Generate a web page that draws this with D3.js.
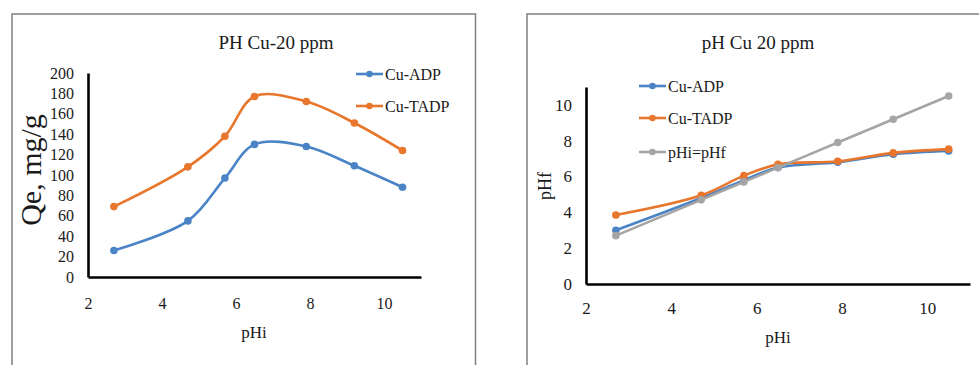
<!DOCTYPE html>
<html>
<head>
<meta charset="utf-8">
<script src="https://cdn.jsdelivr.net/npm/d3@7"></script>
<style>
  body { margin: 0; background: #fff; }
</style>
</head>
<body>
<div id="chart"></div>
<script>
// data
var phInitial = [2.7, 4.7, 5.7, 6.5, 7.9, 9.2, 10.5];

// left panel: Qe, mg/g
var qeADP  = [26, 55, 97, 130, 128, 109, 88];
var qeTADP = [69, 108, 138, 177, 172, 151, 124];
var qeTicks = [0, 20, 40, 60, 80, 100, 120, 140, 160, 180, 200];

// right panel: final pH
var phfADP  = [3.0, 4.8, 5.8, 6.5, 6.8, 7.25, 7.43];
var phfTADP = [3.85, 4.95, 6.05, 6.68, 6.85, 7.32, 7.53];
var phfSame = [2.7, 4.7, 5.7, 6.5, 7.9, 9.2, 10.5];
var phfTicks = [0, 2, 4, 6, 8, 10];

var xTicks = [2, 4, 6, 8, 10];

var blue = "#4a84c6", orange = "#e8762c", grey = "#a5a5a5";
var serif = "'Liberation Serif', 'Times New Roman', serif";

var svg = d3.select("#chart").append("svg")
  .attr("width", 979)
  .attr("height", 365);

// frames
svg.append("path").attr("d", "M12,365V14H475.5V365")
  .attr("fill", "none").attr("stroke", "#808080").attr("stroke-width", 1.5);
svg.append("path").attr("d", "M527,365V14H979")
  .attr("fill", "none").attr("stroke", "#808080").attr("stroke-width", 1.5);

function label(g, size) {
  return g.append("text")
    .style("font-family", serif)
    .style("font-size", size + "px")
    .style("fill", "#1a1a1a");
}

function drawPanel(p) {
  var x = d3.scaleLinear().domain([2, 11]).range([p.left, p.right]);
  var y = d3.scaleLinear().domain(p.yDomain).range([p.bottom, p.top]);

  var g = svg.append("g");

  // axes, no tick marks
  var xAxis = g.append("g").attr("transform", "translate(0," + p.bottom + ")")
    .call(d3.axisBottom(x).tickValues(xTicks).tickSize(0).tickPadding(p.xPad));
  var yAxis = g.append("g").attr("transform", "translate(" + p.left + ",0)")
    .call(d3.axisLeft(y).tickValues(p.yTicks).tickSize(0).tickPadding(p.yPad));
  [xAxis, yAxis].forEach(function (a) {
    a.select(".domain").attr("stroke", "#000").attr("stroke-width", 2.6);
    a.selectAll("text")
      .style("font-family", serif)
      .style("font-size", p.tickSize + "px")
      .style("fill", "#1a1a1a");
  });

  label(g, 19).attr("x", p.titleX).attr("y", 42)
    .attr("text-anchor", "middle").attr("dominant-baseline", "central")
    .text(p.title);

  label(g, p.xLabelSize).attr("x", p.xLabelX).attr("y", p.xLabelY)
    .attr("text-anchor", "middle").attr("dominant-baseline", "central")
    .text("pHi");

  label(g, p.yLabelSize)
    .attr("transform", "translate(" + p.yLabelX + "," + p.yLabelY + ") rotate(-90)")
    .attr("text-anchor", "middle").attr("dominant-baseline", "central")
    .text(p.yLabel);

  var line = d3.line()
    .x(function (d, i) { return x(phInitial[i]); })
    .y(function (d) { return y(d); })
    .curve(d3.curveCatmullRom.alpha(0.5));

  p.series.forEach(function (s) {
    g.append("path").datum(s.values)
      .attr("fill", "none").attr("stroke", s.color).attr("stroke-width", 2.6)
      .attr("d", line);
    g.selectAll(null).data(s.values).enter().append("circle")
      .attr("cx", function (d, i) { return x(phInitial[i]); })
      .attr("cy", function (d) { return y(d); })
      .attr("r", 3.8).attr("fill", s.color);
  });

  // legend
  p.series.forEach(function (s, i) {
    var ly = p.legendY[i];
    g.append("line").attr("x1", p.legendX).attr("x2", p.legendX + 27)
      .attr("y1", ly).attr("y2", ly)
      .attr("stroke", s.color).attr("stroke-width", 2.6);
    g.append("circle").attr("cx", p.legendX + 13.5).attr("cy", ly).attr("r", 3.3)
      .attr("fill", s.color);
    label(g, p.legendSize).attr("x", p.legendX + 29).attr("y", ly)
      .attr("dominant-baseline", "central")
      .text(s.name);
  });
}

drawPanel({
  left: 88, right: 421, top: 73, bottom: 277,
  yDomain: [0, 200], yTicks: qeTicks,
  xPad: 21, yPad: 14, tickSize: 16,
  title: "PH Cu-20 ppm", titleX: 276,
  xLabelX: 254, xLabelY: 332, xLabelSize: 17,
  yLabel: "Qe, mg/g", yLabelX: 30, yLabelY: 170, yLabelSize: 30,
  legendX: 356, legendY: [74, 106], legendSize: 16,
  series: [
    { name: "Cu-ADP", color: blue, values: qeADP },
    { name: "Cu-TADP", color: orange, values: qeTADP }
  ]
});

drawPanel({
  left: 586, right: 970, top: 87, bottom: 284,
  yDomain: [0, 11], yTicks: phfTicks,
  xPad: 18, yPad: 14, tickSize: 17,
  title: "pH Cu 20 ppm", titleX: 758,
  xLabelX: 778, xLabelY: 337, xLabelSize: 17,
  yLabel: "pHf", yLabelX: 545, yLabelY: 186, yLabelSize: 18,
  legendX: 639, legendY: [86, 118, 152], legendSize: 16,
  series: [
    { name: "Cu-ADP", color: blue, values: phfADP },
    { name: "Cu-TADP", color: orange, values: phfTADP },
    { name: "pHi=pHf", color: grey, values: phfSame }
  ]
});
</script>
</body>
</html>
